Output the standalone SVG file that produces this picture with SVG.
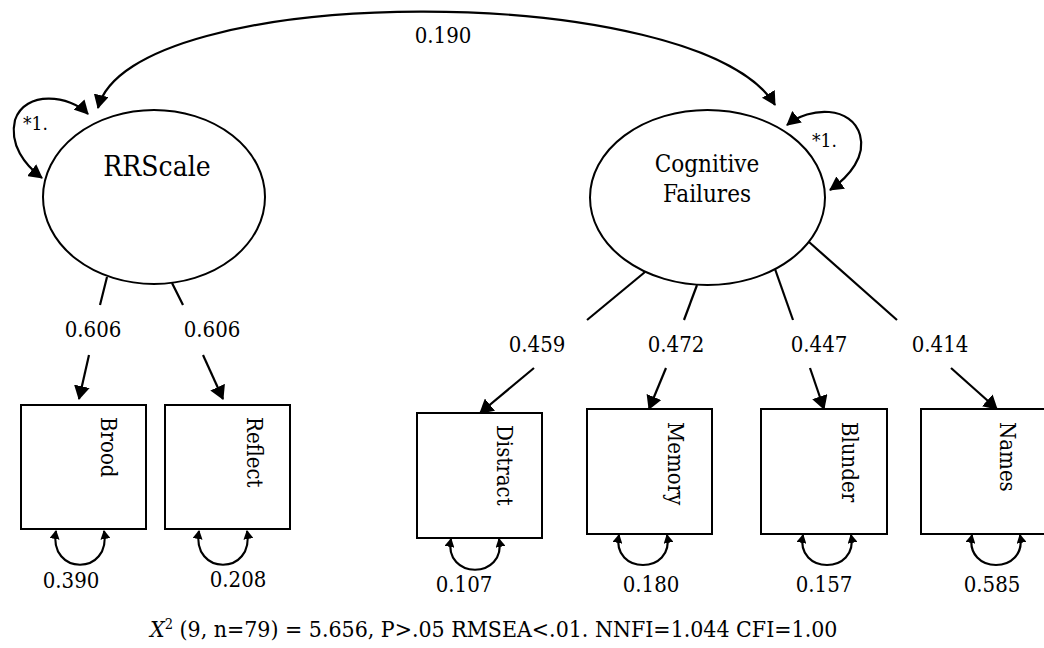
<svg xmlns="http://www.w3.org/2000/svg" width="1044" height="648" viewBox="0 0 1044 648">
  <style>
    text { font-family: "DejaVu Serif Condensed", "DejaVu Serif", "Liberation Serif", serif; fill: #000; }
    .latent { fill: #fff; stroke: #000; stroke-width: 2; }
    .obs { fill: #fff; stroke: #000; stroke-width: 2; }
    .lbl-latent { font-size: 28px; text-anchor: middle; }
    .lbl-latent2 { font-size: 24px; text-anchor: middle; }
    .lbl-obs { font-size: 22px; }
    .num { font-size: 22px; }
    .fix { font-size: 19px; }
    .fit { font-size: 22.9px; }
    .fit .sup { font-size: 14.5px; }
    .edge { fill: none; stroke: #000; stroke-width: 2.2; }
  </style>
  <defs>
    <marker id="ah" viewBox="0 0 14 16" refX="13" refY="8" markerWidth="14" markerHeight="16" orient="auto" markerUnits="userSpaceOnUse">
      <path d="M0,0 L14,8 L0,16 z" fill="#000"/>
    </marker>
    <marker id="ahs" viewBox="0 0 14 15" refX="13" refY="7.5" markerWidth="14" markerHeight="15" orient="auto-start-reverse" markerUnits="userSpaceOnUse">
      <path d="M0,0 L14,7.5 L0,15 z" fill="#000"/>
    </marker>
    <marker id="sm" viewBox="0 0 9 10" refX="8" refY="5" markerWidth="9" markerHeight="10" orient="auto-start-reverse" markerUnits="userSpaceOnUse">
      <path d="M0,0 L9,5 L0,10 z" fill="#000"/>
    </marker>
  </defs>

  <!-- connectors -->
  <g id="connectors">
    <!-- factor covariance -->
    <path class="edge" d="M98,108 C130,-20 700,-20 775,105" marker-start="url(#ahs)" marker-end="url(#ahs)"/>
    <!-- factor variances -->
    <path class="edge" d="M88,114 C70,95 25,90 15,120 C9,145 25,165 42,178" marker-start="url(#ahs)" marker-end="url(#ahs)"/>
    <path class="edge" d="M787,125 C810,106 852,106 860,135 C866,156 850,176 830,190" marker-start="url(#ahs)" marker-end="url(#ahs)"/>
    <!-- RRScale loadings -->
    <line class="edge" x1="107" y1="277" x2="100" y2="305"/>
    <line class="edge" x1="172" y1="283" x2="183" y2="305"/>
    <line class="edge" x1="89" y1="355" x2="79" y2="399" marker-end="url(#ah)"/>
    <line class="edge" x1="203" y1="355" x2="223" y2="399" marker-end="url(#ah)"/>
    <!-- Cognitive Failures loadings -->
    <line class="edge" x1="645" y1="272" x2="587" y2="320"/>
    <line class="edge" x1="697" y1="285" x2="684" y2="320"/>
    <line class="edge" x1="775" y1="269" x2="793" y2="320"/>
    <line class="edge" x1="809" y1="242" x2="897" y2="320"/>
    <line class="edge" x1="534" y1="368" x2="480" y2="413" marker-end="url(#ah)"/>
    <line class="edge" x1="666" y1="368" x2="649" y2="409" marker-end="url(#ah)"/>
    <line class="edge" x1="810" y1="368" x2="824" y2="409" marker-end="url(#ah)"/>
    <line class="edge" x1="951" y1="368" x2="997" y2="409" marker-end="url(#ah)"/>
    <!-- residual variances -->
    <path class="edge" d="M56,531 C48,576 112,576 104,531" marker-start="url(#sm)" marker-end="url(#sm)"/>
    <path class="edge" d="M199,531 C191,576 255,576 247,531" marker-start="url(#sm)" marker-end="url(#sm)"/>
    <path class="edge" d="M451,539 C443,580 507,580 499,539" marker-start="url(#sm)" marker-end="url(#sm)"/>
    <path class="edge" d="M619,535 C611,575 675,575 667,535" marker-start="url(#sm)" marker-end="url(#sm)"/>
    <path class="edge" d="M803,535 C795,575 859,575 851,535" marker-start="url(#sm)" marker-end="url(#sm)"/>
    <path class="edge" d="M972,535 C964,575 1028,575 1020,535" marker-start="url(#sm)" marker-end="url(#sm)"/>
  </g>

  <!-- connector labels -->
  <g id="edge-labels">
    <text class="num" x="443" y="43" text-anchor="middle">0.190</text>
    <text class="fix" x="23" y="130">*1.</text>
    <text class="fix" x="812" y="147">*1.</text>
    <text class="num" x="93" y="337" text-anchor="middle">0.606</text>
    <text class="num" x="212" y="337" text-anchor="middle">0.606</text>
    <text class="num" x="537" y="352" text-anchor="middle">0.459</text>
    <text class="num" x="676" y="352" text-anchor="middle">0.472</text>
    <text class="num" x="819" y="352" text-anchor="middle">0.447</text>
    <text class="num" x="940" y="352" text-anchor="middle">0.414</text>
    <text class="num" x="71" y="588" text-anchor="middle">0.390</text>
    <text class="num" x="238" y="587" text-anchor="middle">0.208</text>
    <text class="num" x="464" y="592" text-anchor="middle">0.107</text>
    <text class="num" x="651" y="592" text-anchor="middle">0.180</text>
    <text class="num" x="824" y="592" text-anchor="middle">0.157</text>
    <text class="num" x="992" y="592" text-anchor="middle">0.585</text>
  </g>

  <!-- latent factors -->
  <g id="node-rrscale">
    <ellipse class="latent" cx="154" cy="197" rx="111" ry="87"/>
    <text class="lbl-latent" x="157" y="176">RRScale</text>
  </g>
  <g id="node-cognitive-failures">
    <ellipse class="latent" cx="707.5" cy="197.5" rx="117.5" ry="87.5"/>
    <text class="lbl-latent2" x="707" y="172">Cognitive</text>
    <text class="lbl-latent2" x="707" y="202">Failures</text>
  </g>

  <!-- observed indicators -->
  <g id="node-brood">
    <rect class="obs" x="21" y="405" width="125" height="124"/>
    <text class="lbl-obs" transform="translate(101,417) rotate(90)">Brood</text>
  </g>
  <g id="node-reflect">
    <rect class="obs" x="165" y="405" width="125" height="124"/>
    <text class="lbl-obs" transform="translate(247,417) rotate(90)">Reflect</text>
  </g>
  <g id="node-distract">
    <rect class="obs" x="417" y="413" width="125" height="125"/>
    <text class="lbl-obs" transform="translate(497,425) rotate(90)">Distract</text>
  </g>
  <g id="node-memory">
    <rect class="obs" x="587" y="409" width="125" height="125"/>
    <text class="lbl-obs" transform="translate(668,422) rotate(90)">Memory</text>
  </g>
  <g id="node-blunder">
    <rect class="obs" x="761" y="409" width="126" height="125"/>
    <text class="lbl-obs" transform="translate(842,422) rotate(90)">Blunder</text>
  </g>
  <g id="node-names">
    <rect class="obs" x="921" y="409" width="126" height="125"/>
    <text class="lbl-obs" transform="translate(1000,422) rotate(90)">Names</text>
  </g>

  <!-- fit statistics -->
  <text id="fit" class="fit" x="150" y="637"><tspan font-style="italic">X</tspan><tspan class="sup" dy="-8">2</tspan><tspan dy="8"> (9, n=79) = 5.656, P&gt;.05 RMSEA&lt;.01. NNFI=1.044 CFI=1.00</tspan></text>
</svg>
